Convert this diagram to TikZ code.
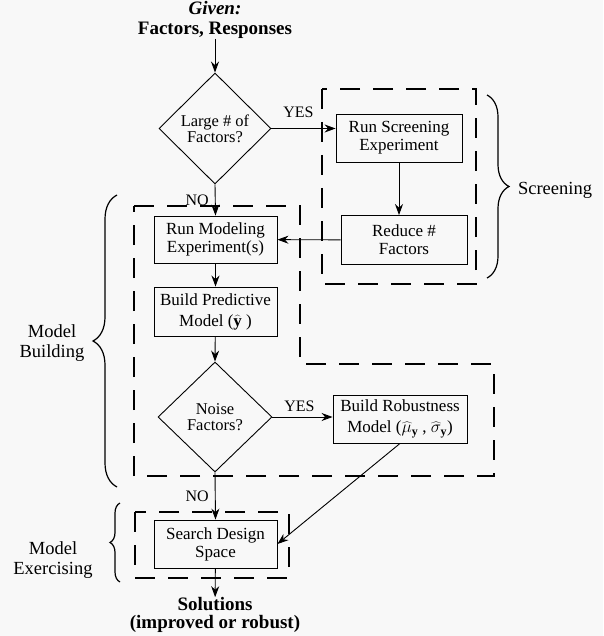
\documentclass[tikz,border=0pt]{standalone}
\usepackage{fontspec}
\setmainfont{Liberation Serif}
\usetikzlibrary{shapes.geometric,arrows.meta,decorations.pathreplacing,calc}
\definecolor{bgc}{RGB}{248,248,248}
\begin{document}
\begin{tikzpicture}[x=1pt,y=-1pt,
  font=\fontsize{17}{18}\selectfont,
  box/.style={draw, line width=0.9pt, inner sep=0pt, align=center},
  dia/.style={draw, diamond, line width=0.9pt, inner sep=0pt, align=center},
  grp/.style={line width=2pt, dash pattern=on 20pt off 13pt},
  conn/.style={line width=0.9pt, -{Stealth[length=11pt,width=8pt]}},
  lbl/.style={inner sep=0pt, align=center},
  side/.style={inner sep=0pt, align=center, font=\fontsize{18.5}{20}\selectfont},
  brc/.style={line width=1.2pt, decorate, decoration={brace, amplitude=#1}}]
\fill[bgc] (0,0) rectangle (603,636);
\useasboundingbox (0,0) rectangle (603,636);

% group boxes
\draw[grp] (322,89) rectangle (476,284);
\draw[grp] (134,206) -- (300,206) -- (300,364) -- (494,364) -- (494,476) -- (134,476) -- cycle;
\draw[grp] (135,512) rectangle (289,578);

% title
\node[lbl, font=\fontsize{19}{20}\selectfont\bfseries] (title) at (215,20) {\textit{Given:}\\Factors, Responses};

% nodes
\node[dia, minimum width=112pt, minimum height=111pt, font=\fontsize{16.5}{16}\selectfont] (d1) at (215,128.5) {Large \# of\\Factors?};
\node[box, minimum width=126pt, minimum height=48pt] (rs) at (399,138) {Run Screening\\Experiment};
\node[box, minimum width=126pt, minimum height=49pt] (rf) at (404,240) {Reduce \#\\Factors};
\node[box, minimum width=123pt, minimum height=47pt] (rm) at (215.5,239.5) {Run Modeling\\Experiment(s)};
\node[box, minimum width=123pt, minimum height=49pt, font=\fontsize{17}{21}\selectfont] (bp) at (215.5,311.5) {Build Predictive\\Model ($\widehat{\mathbf{y}}$ )};
\node[dia, minimum width=114pt, minimum height=110pt, font=\fontsize{16.5}{16}\selectfont] (d2) at (215,417) {Noise\\Factors?};
\node[box, minimum width=134pt, minimum height=48pt, font=\fontsize{17}{21}\selectfont] (br) at (400,419) {Build Robustness\\Model ($\widehat{\mu}_{\mathbf{y}}$ , $\widehat{\sigma}_{\mathbf{y}}$)};
\node[box, minimum width=123pt, minimum height=48pt] (sd) at (215.5,544) {Search Design\\Space};
\node[lbl, font=\fontsize{19}{18}\selectfont\bfseries] (sol) at (215,615) {Solutions\\(improved or robust)};

% side labels
\node[side] (lscr) at (555,190) {Screening};
\node[side] (lmb) at (52,343) {Model\\Building};
\node[side] (lme) at (53,560) {Model\\Exercising};

% braces
\draw[brc=22pt] (487,95) -- (487,278);
\draw[brc=24pt] (117,487) -- (117,195);
\draw[brc=10pt] (120,582) -- (120,503);

% connectors
\draw[conn] (title) -- (d1.north);
\draw[conn] (d1.east) -- (d1.east -| rs.west) node[lbl, pos=0.42, above=10pt, font=\fontsize{16}{16}\selectfont] (yes1) {YES};
\draw[conn] (d1.south) -- (rm.north) node[lbl, midway, left=6pt, font=\fontsize{16}{16}\selectfont] (no1) {NO};
\draw[conn] (rs.south) -- (rs.south |- rf.north);
\draw[conn] (rf) -- (rm);
\draw[conn] (rm) -- (bp);
\draw[conn] (bp) -- (d2.north);
\draw[conn] (d2.east) -- (br.west |- d2.east) node[lbl, pos=0.45, above=5pt, font=\fontsize{16}{16}\selectfont] (yes2) {YES};
\draw[conn] (d2.south) -- (sd.north) node[lbl, midway, left=6pt, font=\fontsize{16}{16}\selectfont] (no2) {NO};
\draw[conn] (br.south) -- (sd.east);
\draw[conn] (sd) -- (sol);
\end{tikzpicture}
\end{document}
